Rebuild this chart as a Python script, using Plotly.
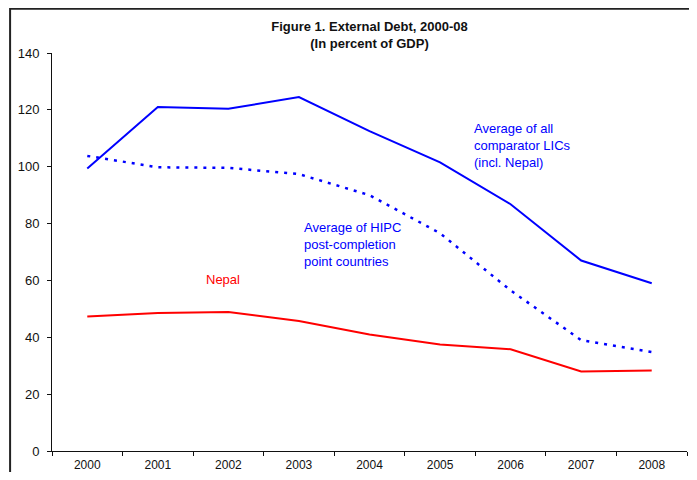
import plotly.graph_objects as go

years = ["2000", "2001", "2002", "2003", "2004", "2005", "2006", "2007", "2008"]
all_lics = [99.4, 121.0, 120.4, 124.5, 112.5, 101.5, 86.8, 67.0, 59.0]
hipc_post = [103.8, 99.8, 99.6, 97.4, 90.0, 76.6, 56.5, 39.0, 34.8]
nepal = [47.3, 48.5, 48.9, 45.7, 41.0, 37.5, 35.8, 28.0, 28.3]

fig = go.Figure()
fig.add_trace(go.Scatter(x=years, y=all_lics, mode="lines",
                         line=dict(color="#0000ff", width=2)))
fig.add_trace(go.Scatter(x=years, y=hipc_post, mode="lines",
                         line=dict(color="#0000ff", width=2.5, dash="3px,6px")))
fig.add_trace(go.Scatter(x=years, y=nepal, mode="lines",
                         line=dict(color="#ff0000", width=2)))

font = "Liberation Sans, Arial, sans-serif"

# labels placed on the chart instead of a legend
fig.add_annotation(x=0.662, y=0.835, xref="paper", yref="paper", xanchor="left", yanchor="top",
                   text="Average of all<br>comparator LICs<br>(incl. Nepal)", showarrow=False,
                   align="left", font=dict(color="#0000ff", size=13, family=font))
fig.add_annotation(x=0.393, y=0.586, xref="paper", yref="paper", xanchor="left", yanchor="top",
                   text="Average of HIPC<br>post-completion<br>point countries", showarrow=False,
                   align="left", font=dict(color="#0000ff", size=13, family=font))
fig.add_annotation(x=0.239, y=0.455, xref="paper", yref="paper", xanchor="left", yanchor="top",
                   text="Nepal", showarrow=False,
                   font=dict(color="#ff0000", size=13, family=font))

# outer frame of the figure
fig.add_shape(type="rect", xref="paper", yref="paper", x0=-0.066, x1=1.2, y0=-0.3, y1=1.111,
              line=dict(color="#222222", width=2))

# page body has an 8px margin, so the figure is sized to fit inside it
fig.update_layout(
    width=681, height=464,
    margin=dict(l=44, r=2, t=45, b=21),
    paper_bgcolor="white", plot_bgcolor="white",
    showlegend=False,
    font=dict(family=font, size=12, color="#111111"),
    title=dict(text="<b>Figure 1. External Debt, 2000-08<br>(In percent of GDP)</b>",
               x=0.5, xanchor="center", xref="paper", y=0.95, yanchor="top",
               font=dict(size=13, color="#111111")),
)
fig.update_xaxes(type="category", tickson="boundaries", range=[-0.5, 8.5], automargin=False,
                 showline=True, linecolor="#111111", linewidth=1,
                 ticks="outside", ticklen=4, tickcolor="#111111", ticklabelstandoff=3,
                 showgrid=False, zeroline=False)
fig.update_yaxes(range=[0, 140], dtick=20, automargin=False,
                 showline=True, linecolor="#111111", linewidth=1,
                 ticks="outside", ticklen=4, tickcolor="#111111", ticklabelstandoff=5,
                 showgrid=False, zeroline=False, tickfont=dict(size=13))

fig.write_html("out.html")
